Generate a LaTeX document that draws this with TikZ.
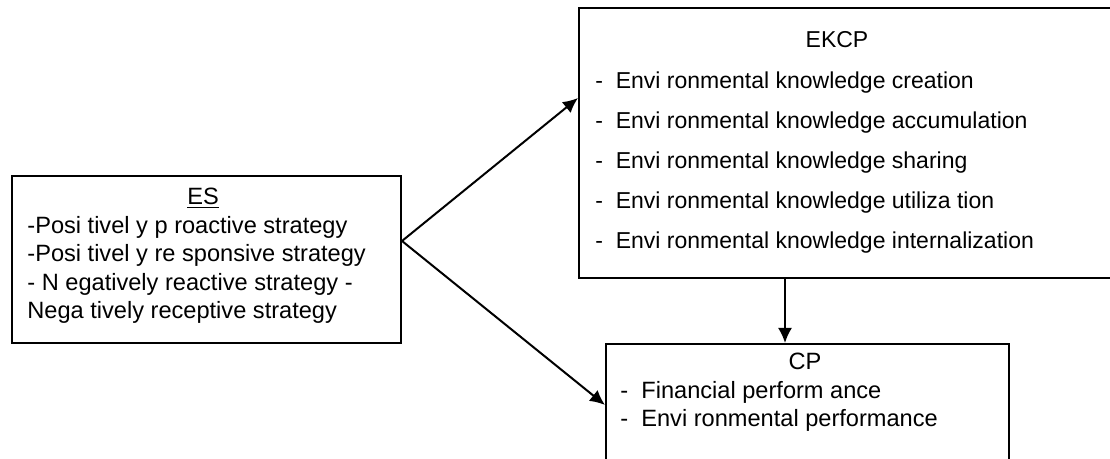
\documentclass[tikz,border=0pt]{standalone}
\usepackage{fontspec}
\setmainfont{Liberation Sans}
\usetikzlibrary{arrows.meta}
\usetikzlibrary{positioning}

\begin{document}
\begin{tikzpicture}[
        x=0.5pt, y=0.5pt,
        box/.style={rectangle, anchor=north west, draw=black, line width=1pt},
        title/.style={anchor=north, inner sep=0pt, text=black},
        items/.style={anchor=north west, inner sep=0pt, align=left, text=black},
        link/.style={-{Latex[length=7.5pt, width=7pt]}, line width=1pt},
    ]
        \clip (0,0) rectangle (1110,459);

        % the three boxes
        \node (es) at(11,284) [
            box, minimum width=194.5pt, minimum height=83.5pt,
        ] {};
        \node (ekcp) at(578,452) [
            box, minimum width=280pt, minimum height=135pt,
        ] {};
        \node (cp) at(605,116) [
            box, minimum width=201.5pt, minimum height=80pt,
        ] {};

        % texts
        \node (estitle) at([xshift=-1.75pt, yshift=-6.5pt]es.north) [
            title, font=\fontsize{11.8pt}{14pt}\selectfont,
        ] {\underline{ES}};
        \node (esitems) at([xshift=8pt, yshift=-20.5pt]es.north west) [
            items, font=\fontsize{11.8pt}{14.2pt}\selectfont,
        ] {-Posi tivel y p roactive strategy\\
           -Posi tivel y re sponsive strategy\\
           - N egatively reactive strategy -\\
           Nega tively receptive strategy};

        \node (ekcptitle) at([xshift=129.5pt, yshift=-12.25pt]ekcp.north west) [
            title, font=\fontsize{11.5pt}{20pt}\selectfont,
        ] {EKCP};
        \node (ekcpitems) at([xshift=8.5pt, yshift=-32.25pt]ekcp.north west) [
            items, font=\fontsize{11.5pt}{20pt}\selectfont,
        ] {-\ \ Envi ronmental knowledge creation\\
           -\ \ Envi ronmental knowledge accumulation\\
           -\ \ Envi ronmental knowledge sharing\\
           -\ \ Envi ronmental knowledge utiliza tion\\
           -\ \ Envi ronmental knowledge internalization};

        \node (cptitle) at([xshift=100pt, yshift=-5pt]cp.north west) [
            title, font=\fontsize{11.8pt}{14pt}\selectfont,
        ] {CP};
        \node (cpitems) at([xshift=7.5pt, yshift=-19pt]cp.north west) [
            items, font=\fontsize{11.8pt}{14pt}\selectfont,
        ] {-\ \ Financial perform ance\\
           -\ \ Envi ronmental performance};

        % arrows
        \draw[link] ([yshift=9.25pt]es.east) -- ([yshift=-45.5pt]ekcp.north west);
        \draw[link] ([yshift=9.25pt]es.east) -- ([yshift=-31pt]cp.north west);
        \draw[link] ([xshift=103.5pt]ekcp.south west) -- ([xshift=90pt]cp.north west);
    \end{tikzpicture}
\end{document}
